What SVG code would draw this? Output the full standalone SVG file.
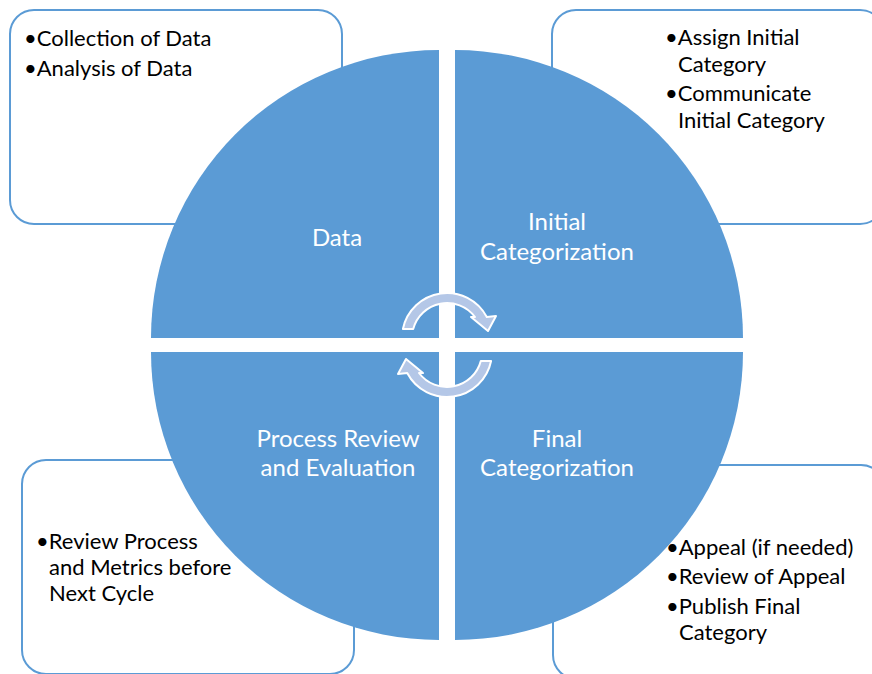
<svg xmlns="http://www.w3.org/2000/svg" width="872" height="674" viewBox="0 0 872 674">
<style>
.box{fill:#ffffff;stroke:#5b9bd5;stroke-width:2}
.q{fill:#5b9bd5}
.arr{fill:#b4c7e7;stroke:#ffffff;stroke-width:2;stroke-linejoin:round}
.t{font-family:Lato,"Liberation Sans",sans-serif;font-size:22px;fill:#000000}
.l{font-family:Lato,"Liberation Sans",sans-serif;font-size:24px;fill:#ffffff;text-anchor:middle}
</style>
<rect width="872" height="674" fill="#ffffff"/>
<g id="box-data"><rect class="box" x="10" y="10" width="332" height="214" rx="24"/>
<text class="t"><tspan x="24" y="46">•Collection of Data</tspan><tspan x="24" y="76">•Analysis of Data</tspan></text></g>
<g id="box-initial"><rect class="box" x="552" y="10" width="332" height="214" rx="24"/>
<text class="t"><tspan x="665" y="45">•Assign Initial</tspan><tspan x="678" y="72">Category</tspan><tspan x="665" y="101">•Communicate</tspan><tspan x="678" y="128">Initial Category</tspan></text></g>
<g id="box-review"><rect class="box" x="22" y="460" width="332" height="214" rx="24"/>
<text class="t"><tspan x="36" y="549">•Review Process</tspan><tspan x="49" y="575">and Metrics before</tspan><tspan x="49" y="601">Next Cycle</tspan></text></g>
<g id="box-final"><rect class="box" x="553" y="465" width="332" height="214" rx="24"/>
<text class="t"><tspan x="666" y="555">•Appeal (if needed)</tspan><tspan x="666" y="584">•Review of Appeal</tspan><tspan x="666" y="614">•Publish Final</tspan><tspan x="679" y="640">Category</tspan></text></g>
<g id="q-data"><path class="q" d="M439 338 L151 338 A288 288 0 0 1 439 50 Z"/><text class="l" x="337" y="246">Data</text></g>
<g id="q-initial"><path class="q" d="M455 338 L455 50 A288 288 0 0 1 743 338 Z"/><text class="l"><tspan x="557" y="230">Initial</tspan><tspan x="557" y="260">Categorization</tspan></text></g>
<g id="q-final"><path class="q" d="M455 352 L743 352 A288 288 0 0 1 455 640 Z"/><text class="l"><tspan x="557" y="447">Final</tspan><tspan x="557" y="476">Categorization</tspan></text></g>
<g id="q-review"><path class="q" d="M439 352 L439 640 A288 288 0 0 1 151 352 Z"/><text class="l"><tspan x="338" y="447">Process Review</tspan><tspan x="338" y="476">and Evaluation</tspan></text></g>
<g id="connectors">
<path class="arr" d="M402.9 329 A45 45 0 0 1 486.8 317 L496 316 L488 331 L471 317 L475 317 A35 35 0 0 0 413.2 329 Z"/>
<path class="arr" transform="rotate(180 447 345)" d="M402.9 329 A45 45 0 0 1 486.8 317 L496 316 L488 331 L471 317 L475 317 A35 35 0 0 0 413.2 329 Z"/>
</g>
</svg>
